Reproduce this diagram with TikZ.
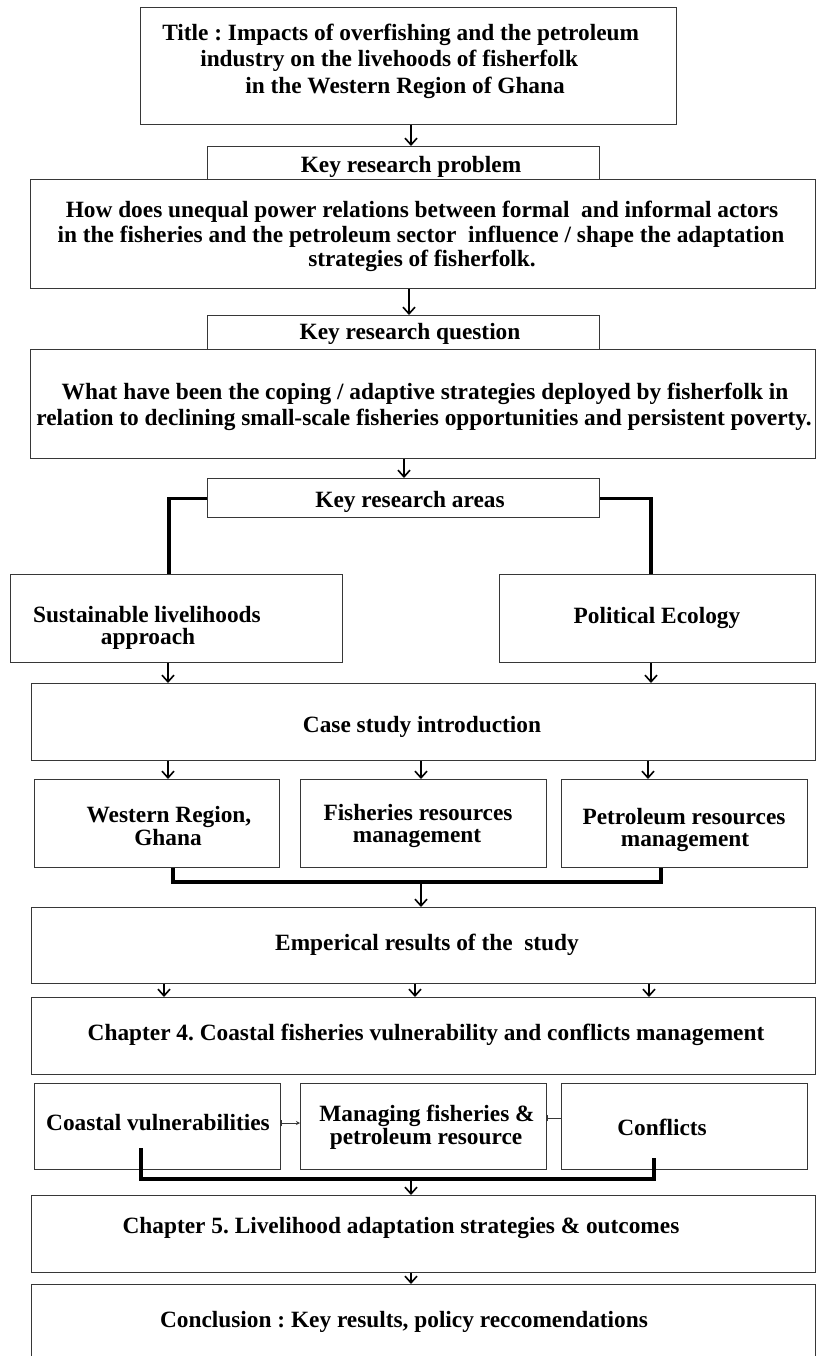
\documentclass[tikz,border=0pt]{standalone}
\usepackage{fontspec}
\setmainfont{Liberation Serif}
\usetikzlibrary{arrows.meta}
\definecolor{boxgray}{RGB}{55,55,55}
% a framed box given by its corners (x1,y1) and (x2,y2) in pixel units
\newcommand\frameat[5]{\node[box,anchor=north west,minimum width={(#4-#2)*0.75pt},minimum height={(#5-#3)*0.75pt}] (#1) at (#2,#3) {};}
\begin{document}
\begin{tikzpicture}[x=0.75pt,y=-0.75pt,
  box/.style={draw=boxgray,line width=1.1pt,inner sep=0pt},
  lbl/.style={anchor=base,inner sep=0pt,font=\frenchspacing\bfseries\fontsize{17.5}{20}\selectfont},
  lblw/.style={lbl,anchor=base west},
  conn/.style={line width=2.3pt,line join=miter},
  arr/.style={line width=1.2pt,-{Straight Barb[length=5pt,width=9pt,line width=1.2pt]}},
  tick/.style={line width=0.6pt,draw=boxgray},
]
\fill[white] (0,0) rectangle (816,1356);
\useasboundingbox (0,0) rectangle (816,1356);

% ---- boxes ----
\frameat{title}{140}{7}{676}{124}
\frameat{krp}{207}{146}{599}{179}
\frameat{prob}{30}{179}{815}{288}
\frameat{krq}{207}{315}{599}{349}
\frameat{ques}{30}{349}{815}{458}
\frameat{kra}{207}{478}{599}{517}
\frameat{sla}{10}{574}{342}{662}
\frameat{pe}{499}{574}{815}{662}
\frameat{case}{31}{683}{815}{760}
\frameat{wr}{34}{779}{279}{867}
\frameat{frm}{300}{779}{546}{867}
\frameat{prm}{561}{779}{807}{867}
\frameat{emp}{31}{907}{815}{983}
\frameat{chfour}{31}{997}{815}{1074}
\frameat{cv}{34}{1083}{280}{1169}
\frameat{mf}{300}{1083}{546}{1169}
\frameat{conf}{561}{1083}{807}{1169}
\frameat{chfive}{31}{1195}{815}{1272}
\frameat{concl}{31}{1284}{815}{1362}

% ---- texts ----
\node[lblw] (title1) at (162,40) {Title : Impacts of overfishing and the petroleum};
\node[lblw] (title2) at (200,66) {industry on the livehoods of fisherfolk};
\node[lblw] (title3) at (245,93) {in the Western Region of Ghana};
\node[lbl] (krpT) at (411,172) {Key research problem};
\node[lbl] (prob1) at (422,217) {How does unequal power relations between formal\ \ and informal actors};
\node[lbl] (prob2) at (421,242) {in the fisheries and the petroleum sector\ \ influence / shape the adaptation};
\node[lbl] (prob3) at (422,266) {strategies of fisherfolk.};
\node[lbl] (krqT) at (410,339) {Key research question};
\node[lbl] (ques1) at (425,399) {What have been the coping / adaptive strategies deployed by fisherfolk in};
\node[lbl] (ques2) at (424,425) {relation to declining small-scale fisheries opportunities and persistent poverty.};
\node[lbl] (kraT) at (410,507) {Key research areas};
\node[lbl] (sla1) at (147,622) {Sustainable livelihoods};
\node[lbl] (sla2) at (148,644) {approach};
\node[lbl] (peT) at (657,623) {Political Ecology};
\node[lbl] (caseT) at (422,732) {Case study introduction};
\node[lbl] (wr1) at (169,822) {Western Region,};
\node[lbl] (wr2) at (168,845) {Ghana};
\node[lbl] (frm1) at (418,820) {Fisheries resources};
\node[lbl] (frm2) at (417,842) {management};
\node[lbl] (prm1) at (684,824) {Petroleum resources};
\node[lbl] (prm2) at (685,846) {management};
\node[lbl] (empT) at (427,950) {Emperical results of the\ \ study};
\node[lbl] (chfourT) at (426,1040) {Chapter 4. Coastal fisheries vulnerability and conflicts management};
\node[lbl] (cvT) at (158,1130) {Coastal vulnerabilities};
\node[lbl] (mf1) at (427,1121) {Managing fisheries \&};
\node[lbl] (mf2) at (426,1144) {petroleum resource};
\node[lbl] (confT) at (662,1135) {Conflicts};
\node[lbl] (chfiveT) at (401,1233) {Chapter 5. Livelihood adaptation strategies \& outcomes};
\node[lbl] (conclT) at (404,1327) {Conclusion : Key results, policy reccomendations};

% ---- connector positions ----
\coordinate (a1) at (411,0);
\coordinate (a2) at (409,0);
\coordinate (a3) at (404,0);
\coordinate (lx) at (169,0);
\coordinate (rx) at (651,0);
\coordinate (c1) at (168,0);
\coordinate (c2) at (421,0);
\coordinate (c3) at (648,0);
\coordinate (bl) at (173,882);
\coordinate (bm) at (421,882);
\coordinate (br) at (661,882);
\coordinate (e1) at (164,0);
\coordinate (e2) at (415,0);
\coordinate (e3) at (649,0);
\coordinate (dl) at (141,1179);
\coordinate (dm) at (411,1179);
\coordinate (dr) at (654,1179);
\coordinate (dlt) at (141,1148);
\coordinate (drt) at (654,1158);

% ---- connectors ----
\draw[arr] (a1 |- title.south) -- (a1 |- krp.north);
\draw[arr] (a2 |- prob.south) -- (a2 |- krq.north);
\draw[arr] (a3 |- ques.south) -- (a3 |- kra.north);
\draw[conn] (kra.west) -| (lx |- sla.north);
\draw[conn] (kra.east) -| (rx |- pe.north);
\draw[arr] (c1 |- sla.south) -- (c1 |- case.north);
\draw[arr] (rx |- pe.south) -- (rx |- case.north);
\draw[arr] (c1 |- case.south) -- (c1 |- wr.north);
\draw[arr] (c2 |- case.south) -- (c2 |- frm.north);
\draw[arr] (c3 |- case.south) -- (c3 |- prm.north);
\draw[conn] (bl |- wr.south) -- (bl) -- (br) -- (br |- prm.south);
\draw[arr] (bm) -- (bm |- emp.north);
\draw[arr] (e1 |- emp.south) -- (e1 |- chfour.north);
\draw[arr] (e2 |- emp.south) -- (e2 |- chfour.north);
\draw[arr] (e3 |- emp.south) -- (e3 |- chfour.north);
\draw[tick,{Bar[width=5pt]}-{Stealth[length=3pt,width=3pt]}] (cv.east |- 0,1123) -- (mf.west |- 0,1123);
\draw[tick,{Bar[width=5pt]}-] (mf.east |- 0,1118) -- (conf.west |- 0,1118);
\draw[conn] (dlt) -- (dl) -- (dr) -- (drt);
\draw[arr] (dm) -- (dm |- chfive.north);
\draw[arr] (a1 |- chfive.south) -- (a1 |- concl.north);
\end{tikzpicture}
\end{document}
